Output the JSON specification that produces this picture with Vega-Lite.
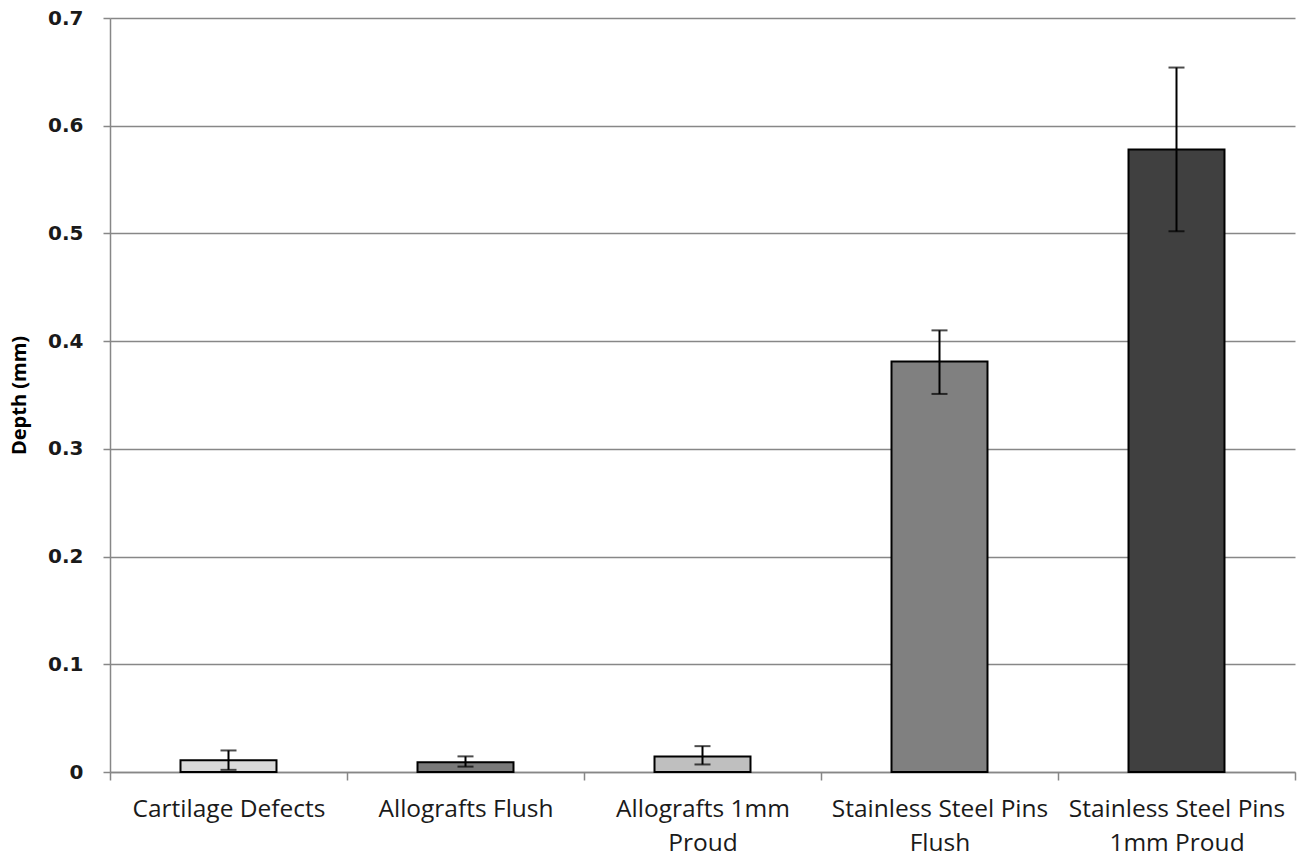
{
  "$schema": "https://vega.github.io/schema/vega-lite/v6.json",
  "width": 1185,
  "height": 754,
  "autosize": {"type": "none"},
  "padding": {"left": 110, "top": 18, "right": 2, "bottom": 86},
  "background": "white",
  "config": {"view": {"stroke": null}},
  "data": {
    "values": [
      {"group": "Cartilage Defects", "depth": 0.011, "lo": 0.002, "hi": 0.020},
      {"group": "Allografts Flush", "depth": 0.009, "lo": 0.005, "hi": 0.0145},
      {"group": "Allografts 1mm Proud", "depth": 0.0145, "lo": 0.007, "hi": 0.024},
      {"group": "Stainless Steel Pins Flush", "depth": 0.381, "lo": 0.351, "hi": 0.410},
      {"group": "Stainless Steel Pins 1mm Proud", "depth": 0.578, "lo": 0.502, "hi": 0.654}
    ]
  },
  "encoding": {
    "x": {
      "field": "group",
      "type": "nominal",
      "sort": null,
      "scale": {"paddingInner": 0, "paddingOuter": 0},
      "axis": {
        "title": null,
        "labelAngle": 0,
        "labelFont": "Open Sans",
        "labelFontSize": 24.5,
        "labelColor": "#1a1a1a",
        "labelPadding": 17,
        "labelLineHeight": 34,
        "labelLimit": 0,
        "labelOverlap": false,
        "labelExpr": "datum.value == 'Allografts 1mm Proud' ? ['Allografts 1mm', 'Proud'] : datum.value == 'Stainless Steel Pins Flush' ? ['Stainless Steel Pins', 'Flush'] : datum.value == 'Stainless Steel Pins 1mm Proud' ? ['Stainless Steel Pins', '1mm Proud'] : datum.value",
        "domainColor": "#878787",
        "domainWidth": 1.5,
        "tickColor": "#878787",
        "tickWidth": 1.5,
        "tickSize": 8,
        "tickBand": "extent",
        "grid": false
      }
    }
  },
  "layer": [
    {
      "mark": {"type": "bar", "stroke": "black", "strokeWidth": 2, "width": {"band": 0.405}},
      "encoding": {
        "y": {
          "field": "depth",
          "type": "quantitative",
          "scale": {"domain": [0, 0.7], "nice": false},
          "axis": {
            "title": "Depth (mm)",
            "titleFont": "Open Sans",
            "titleFontSize": 20,
            "titleFontWeight": "bold",
            "titleColor": "black",
            "titlePadding": 18,
            "values": [0, 0.1, 0.2, 0.3, 0.4, 0.5, 0.6, 0.7],
            "format": ".1~f",
            "labelFont": "DejaVu Sans",
            "labelFontSize": 20,
            "labelFontWeight": "bold",
            "labelColor": "#1a1a1a",
            "labelPadding": 20,
            "domainColor": "#878787",
            "domainWidth": 1.5,
            "tickColor": "#878787",
            "tickWidth": 1.5,
            "tickSize": 7,
            "grid": true,
            "gridColor": "#878787",
            "gridWidth": 1.5
          }
        },
        "color": {
          "field": "group",
          "type": "nominal",
          "legend": null,
          "scale": {
            "domain": ["Cartilage Defects", "Allografts Flush", "Allografts 1mm Proud", "Stainless Steel Pins Flush", "Stainless Steel Pins 1mm Proud"],
            "range": ["#d9d9d9", "#7a7a7a", "#bfbfbf", "#808080", "#404040"]
          }
        }
      }
    },
    {
      "mark": {"type": "rule", "color": "black", "strokeWidth": 2},
      "encoding": {
        "y": {"field": "lo", "type": "quantitative"},
        "y2": {"field": "hi"}
      }
    },
    {
      "mark": {"type": "tick", "color": "black", "thickness": 2, "size": 16, "orient": "horizontal"},
      "encoding": {"y": {"field": "lo", "type": "quantitative"}}
    },
    {
      "mark": {"type": "tick", "color": "black", "thickness": 2, "size": 16, "orient": "horizontal"},
      "encoding": {"y": {"field": "hi", "type": "quantitative"}}
    }
  ]
}
